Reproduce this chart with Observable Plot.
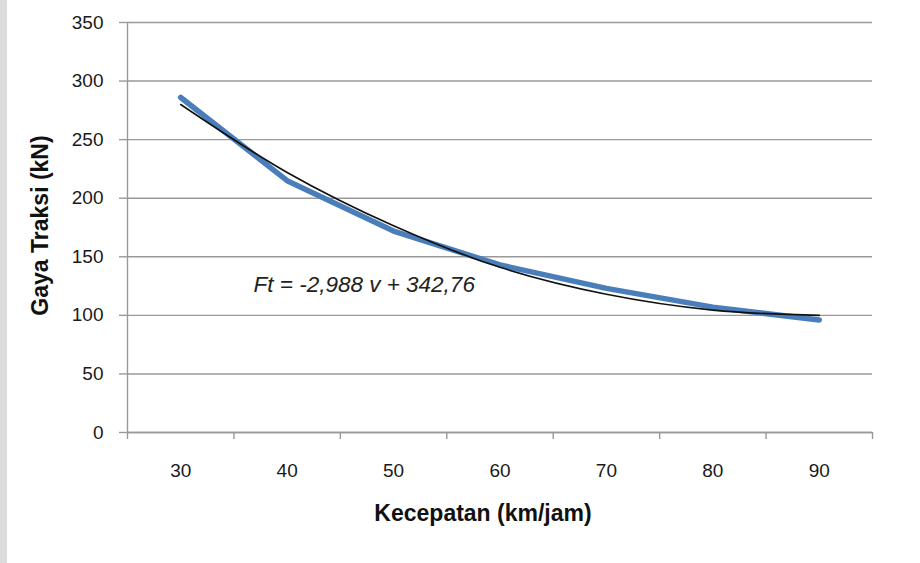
<!DOCTYPE html>
<html>
<head>
<meta charset="utf-8">
<script src="https://cdn.jsdelivr.net/npm/d3@7"></script>
<script src="https://cdn.jsdelivr.net/npm/@observablehq/plot@0.6"></script>
<style>
  html, body { margin: 0; padding: 0; background: #fff; }
  #wrap { position: relative; width: 920px; height: 563px; overflow: hidden; }
  #strip { position: absolute; left: 0; top: 0; width: 7px; height: 563px; background: #dcdcdc; }
  #chart { position: absolute; left: 0; top: 0; }
</style>
</head>
<body>
<div id="wrap"><div id="strip"></div><div id="chart"></div></div>
<script>
// Data
const speeds = [30, 40, 50, 60, 70, 80, 90];
const forceActual = [286, 215, 172, 143, 123, 107, 96];
const forceTrend = [280, 222, 176.5, 141, 118, 104.5, 100];
const yTicks = [0, 50, 100, 150, 200, 250, 300, 350];
const xBoundaryTicks = [25, 35, 45, 55, 65, 75, 85, 95];
const equationText = "Ft = -2,988 v + 342,76";
const xTitle = "Kecepatan (km/jam)";
const yTitle = "Gaya Traksi (kN)";

const actual = speeds.map((v, i) => ({v, f: forceActual[i]}));
const trend = speeds.map((v, i) => ({v, f: forceTrend[i]}));

const gray = "#999999";
const font = "'Liberation Sans', Arial, sans-serif";

const chart = Plot.plot({
  width: 920,
  height: 563,
  marginLeft: 127,
  marginRight: 48,
  marginTop: 22,
  marginBottom: 131,
  style: {fontFamily: font, fontSize: "19px", color: "#1a1a1a", background: "transparent"},
  x: {domain: [25, 95], label: null},
  y: {domain: [0, 350], label: null},
  marks: [
    Plot.gridY(yTicks, {stroke: gray, strokeOpacity: 1, strokeWidth: 1.4}),
    Plot.axisY(yTicks, {stroke: gray, strokeWidth: 1.4, tickSize: 8, tickPadding: 16, fontSize: 19, fill: "#1a1a1a", label: null}),
    Plot.ruleX([25], {stroke: gray, strokeWidth: 1.4}),
    Plot.ruleY([0], {stroke: gray, strokeWidth: 1.4}),
    Plot.axisX(xBoundaryTicks, {stroke: gray, strokeWidth: 1.4, tickSize: 7, tickFormat: () => "", label: null}),
    Plot.axisX(speeds, {tickSize: 0, tickPadding: 31, fontSize: 19, fill: "#1a1a1a", label: null}),
    Plot.line(actual, {x: "v", y: "f", stroke: "#4a7ebb", strokeWidth: 5.5, strokeLinecap: "round", strokeLinejoin: "round"}),
    Plot.line(trend, {x: "v", y: "f", stroke: "#111", strokeWidth: 1.6, curve: "catmull-rom"}),
    Plot.text([equationText], {frameAnchor: "top-left", dx: 126, dy: 262, textAnchor: "start", lineAnchor: "middle", fontStyle: "italic", fontSize: 22.5, fill: "#222"}),
    Plot.text([xTitle], {frameAnchor: "bottom", dx: -17, dy: 81, textAnchor: "middle", lineAnchor: "middle", fontWeight: "bold", fontSize: 23, fill: "#111"}),
    Plot.text([yTitle], {frameAnchor: "left", dx: -87, dy: -2, rotate: -90, textAnchor: "middle", lineAnchor: "middle", fontWeight: "bold", fontSize: 23, fill: "#111"})
  ]
});
document.getElementById("chart").appendChild(chart);
</script>
</body>
</html>
